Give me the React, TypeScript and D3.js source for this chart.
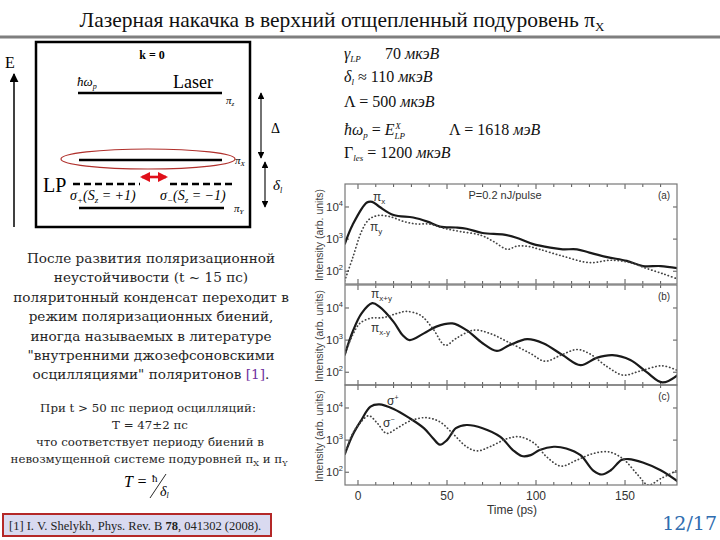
import React from 'react';
import * as d3 from 'd3';

// ---- chart data (intensity in arb. units) ----
const timeTicks = [0, 50, 100, 150];
const decadeTicks = [100, 1000, 10000];

const piXTime = [-7.5, -3, 5, 8, 12, 20, 31, 39, 46, 55, 61, 70, 82, 89, 98, 108, 115, 123, 130, 140, 151, 160, 170, 180];
const piXValue = [680, 2800, 13800, 14500, 10200, 5600, 4700, 3500, 2450, 2300, 2100, 1550, 1380, 1100, 710, 540, 480, 480, 380, 275, 210, 145, 145, 123];
const piYTime = [-7.5, -3, 2, 6, 11, 18, 26, 33, 40, 48, 57, 69, 76, 84, 89, 95, 102, 115, 130, 142, 153, 162, 172, 180];
const piYValue = [50, 260, 1740, 4000, 5400, 5000, 3500, 2950, 2950, 2200, 1740, 1320, 850, 480, 600, 600, 480, 295, 185, 220, 185, 123, 81, 56];

const piXpYTime = [-7.5, -3, 2, 8, 12, 20, 25, 29, 37, 44, 53, 61, 70, 78, 85, 95, 104, 115, 125, 134, 143, 153, 162, 171, 180];
const piXpYValue = [340, 1820, 6800, 14100, 11000, 3700, 1450, 1000, 1620, 2630, 3300, 2040, 800, 460, 690, 1070, 800, 340, 166, 280, 340, 240, 102, 48, 85];
const piXmYTime = [-7.5, -3, 1, 7, 14, 22, 27, 35, 42, 49, 55, 65, 74, 84, 97, 105, 114, 123, 130, 140, 149, 158, 171, 180];
const piXmYValue = [340, 1450, 3300, 4800, 5000, 6800, 7800, 6000, 2300, 690, 1120, 2040, 1620, 890, 380, 220, 340, 510, 380, 148, 81, 107, 158, 110];

const sigPlusTime = [-7.5, -3, 2, 7, 12, 20, 29, 37, 42, 46, 50, 55, 61, 70, 80, 87, 92, 97, 102, 110, 117, 125, 132, 137, 142, 148, 152, 160, 170, 180];
const sigPlusValue = [355, 1450, 4300, 11000, 12900, 9300, 4800, 2350, 1170, 720, 1000, 2350, 2950, 2350, 1260, 490, 320, 340, 490, 620, 550, 340, 115, 85, 115, 240, 257, 200, 115, 50];
const sigMinusTime = [-7.5, -3, 1, 6, 11, 16, 22, 29, 38, 46, 54, 61, 67, 74, 84, 91, 99, 106, 114, 123, 132, 141, 149, 157, 163, 170, 180];
const sigMinusValue = [355, 1620, 3300, 5750, 3300, 1620, 2350, 3900, 5000, 3700, 1450, 620, 460, 620, 1120, 1260, 800, 300, 155, 240, 380, 430, 257, 85, 40, 63, 120];

const panelLetters = ['(a)', '(b)', '(c)'];

// ---- slide text ----
const titleText = 'Лазерная накачка в верхний отщепленный подуровень π';
const paragraphLines = [
  'После развития поляризационной',
  'неустойчивости (t ~ 15 пс)',
  'поляритонный конденсат переходит в',
  'режим поляризационных биений,',
  'иногда называемых в литературе',
  '"внутренними джозефсоновскими',
];

const SANS = 'Liberation Sans, Arial, sans-serif';
const SERIF = 'DejaVu Serif, serif';
const TIMES = 'Liberation Serif, Times New Roman, serif';

const x0 = 345, x1 = 677;
const panelTops = [184, 285, 385];
const panelH = 100;

const xScale = d3.scaleLinear().domain([-7.3, 179.2]).range([x0, x1]);

type Series = { t: number[]; v: number[]; dotted: boolean };

const panelSeries: Series[][] = [
  [
    { t: piXTime, v: piXValue, dotted: false },
    { t: piYTime, v: piYValue, dotted: true },
  ],
  [
    { t: piXpYTime, v: piXpYValue, dotted: false },
    { t: piXmYTime, v: piXmYValue, dotted: true },
  ],
  [
    { t: sigPlusTime, v: sigPlusValue, dotted: false },
    { t: sigMinusTime, v: sigMinusValue, dotted: true },
  ],
];

const Panel: React.FC<{ index: number }> = ({ index }) => {
  const top = panelTops[index];
  const bottom = top + panelH;
  const yScale = d3.scaleLog().domain([40, 52000]).range([bottom, top]);
  const line = d3
    .line<[number, number]>()
    .x((d) => xScale(d[0]))
    .y((d) => yScale(d[1]))
    .curve(d3.curveCatmullRom.alpha(0.5));
  const minor = d3.range(0, 180, 10);
  const clipId = `clip-${index}`;
  return (
    <g>
      <defs>
        <clipPath id={clipId}>
          <rect x={x0} y={top} width={x1 - x0} height={panelH} />
        </clipPath>
      </defs>
      {/* ticks on the time axis, top and bottom, pointing inward */}
      {minor.map((t) => {
        const len = t % 50 === 0 ? 5 : 3;
        return (
          <g key={t} stroke="#555" strokeWidth={1}>
            <line x1={xScale(t)} x2={xScale(t)} y1={bottom} y2={bottom - len} />
            <line x1={xScale(t)} x2={xScale(t)} y1={top} y2={top + len} />
          </g>
        );
      })}
      {decadeTicks.map((d) => (
        <g key={d}>
          <line x1={x0} x2={x0 + 4} y1={yScale(d)} y2={yScale(d)} stroke="#555" />
          <line x1={x1} x2={x1 - 4} y1={yScale(d)} y2={yScale(d)} stroke="#555" />
          <text x={x0 - 2} y={yScale(d) + 4} textAnchor="end" fontFamily={SANS} fontSize={11.5} fill="#333">
            10<tspan fontSize={7.5} dy={-5}>{Math.round(Math.log10(d))}</tspan>
          </text>
        </g>
      ))}
      <g clipPath={`url(#${clipId})`}>
        {panelSeries[index].map((s, i) => (
          <path
            key={i}
            d={line(s.t.map((t, k) => [t, s.v[k]] as [number, number])) || ''}
            fill="none"
            stroke={s.dotted ? '#444' : '#1a1a1a'}
            strokeWidth={s.dotted ? 1.7 : 2.2}
            strokeDasharray={s.dotted ? '0.3 3.2' : undefined}
            strokeLinecap={s.dotted ? 'round' : 'butt'}
          />
        ))}
      </g>
      <rect x={x0} y={top} width={x1 - x0} height={panelH} fill="none" stroke="#777" strokeWidth={1.2} />
      <text x={664} y={top + 15} textAnchor="middle" fontFamily={SANS} fontSize={10} fill="#333">
        {panelLetters[index]}
      </text>
      <text
        transform={`translate(323,${top + panelH / 2 + 1}) rotate(-90)`}
        textAnchor="middle"
        fontFamily={SANS}
        fontSize={10.5}
        fill="#444"
      >
        Intensity (arb. units)
      </text>
    </g>
  );
};

const Arrowheads = () => (
  <defs>
    <marker id="ah" viewBox="0 0 10 10" refX="9" refY="5" markerWidth="6" markerHeight="6" orient="auto-start-reverse">
      <path d="M0,0 L10,5 L0,10 z" fill="#000" />
    </marker>
    <marker id="ahr" viewBox="0 0 10 10" refX="8" refY="5" markerWidth="4" markerHeight="4" orient="auto-start-reverse">
      <path d="M0,0 L10,5 L0,10 z" fill="#e0101a" />
    </marker>
  </defs>
);

const App: React.FC = () => {
  return (
    <svg width={720} height={540} style={{ position: 'absolute', left: 0, top: 0, background: '#fff' }}>
      <Arrowheads />
      {/* title */}
      <text x={342} y={27} textAnchor="middle" fontFamily={TIMES} fontSize={21.5} fill="#111">
        {titleText}<tspan fontSize={13} dy={4}>X</tspan>
      </text>
      <line x1={0} x2={720} y1={37} y2={37} stroke="#7f7f7f" strokeWidth={3} />

      {/* energy level diagram */}
      <line x1={14} x2={14} y1={227} y2={74} stroke="#000" strokeWidth={1.5} markerEnd="url(#ah)" />
      <text x={5} y={68} fontFamily={TIMES} fontSize={16}>E</text>
      <rect x={36} y={42} width={214} height={185} fill="none" stroke="#000" strokeWidth={2.5} />
      <text x={152} y={59} textAnchor="middle" fontFamily={TIMES} fontSize={12} fontWeight="bold">k = 0</text>
      <text x={77} y={86} fontFamily={TIMES} fontSize={13} fontStyle="italic">
        ħω<tspan fontSize={8} dy={3}>p</tspan>
      </text>
      <text x={173} y={88} fontFamily={TIMES} fontSize={18}>Laser</text>
      <line x1={78} x2={222} y1={93} y2={93} stroke="#000" strokeWidth={2.5} />
      <text x={226} y={104} fontFamily={TIMES} fontSize={11} fontStyle="italic">π<tspan fontSize={7} dy={2}>z</tspan></text>
      <ellipse cx={148} cy={159} rx={87} ry={10} fill="none" stroke="#b0302c" strokeWidth={1.2} />
      <line x1={79} x2={222} y1={160} y2={160} stroke="#000" strokeWidth={2.5} />
      <text x={235} y={164} fontFamily={TIMES} fontSize={11} fontStyle="italic">π<tspan fontSize={7} dy={2}>X</tspan></text>
      <line x1={142} x2={166} y1={177} y2={177} stroke="#e0101a" strokeWidth={2.6} markerStart="url(#ahr)" markerEnd="url(#ahr)" />
      <text x={43} y={192} fontFamily={TIMES} fontSize={20}>LP</text>
      <line x1={73} x2={140} y1={184} y2={184} stroke="#000" strokeWidth={2.5} strokeDasharray="7 4" />
      <line x1={170} x2={232} y1={184} y2={184} stroke="#000" strokeWidth={2.5} strokeDasharray="7 4" />
      <text x={70} y={200} fontFamily={TIMES} fontSize={14} fontStyle="italic">
        σ<tspan fontSize={9} dy={3}>+</tspan><tspan dy={-3}>(S</tspan><tspan fontSize={9} dy={3}>z</tspan><tspan dy={-3}> = +1)</tspan>
      </text>
      <text x={160} y={200} fontFamily={TIMES} fontSize={14} fontStyle="italic">
        σ<tspan fontSize={9} dy={3}>−</tspan><tspan dy={-3}>(S</tspan><tspan fontSize={9} dy={3}>z</tspan><tspan dy={-3}> = −1)</tspan>
      </text>
      <line x1={79} x2={224} y1={208} y2={208} stroke="#000" strokeWidth={2.5} />
      <text x={234} y={212} fontFamily={TIMES} fontSize={11} fontStyle="italic">π<tspan fontSize={7} dy={2}>Y</tspan></text>
      <line x1={261} x2={261} y1={93} y2={158} stroke="#000" strokeWidth={1.1} markerStart="url(#ah)" markerEnd="url(#ah)" />
      <text x={271} y={133} fontFamily={TIMES} fontSize={14}>Δ</text>
      <line x1={265} x2={265} y1={162} y2={207} stroke="#000" strokeWidth={1.1} markerStart="url(#ah)" markerEnd="url(#ah)" />
      <text x={273} y={190} fontFamily={TIMES} fontSize={15} fontStyle="italic">δ<tspan fontSize={8} dy={3}>l</tspan></text>

      {/* parameter formulas */}
      <g fontFamily={TIMES} fontSize={16} fill="#111">
        <text x={344} y={59}>
          <tspan fontStyle="italic">γ</tspan><tspan fontSize={9} dy={3} fontStyle="italic">LP</tspan>
          <tspan x={385} dy={-3}>70 </tspan><tspan fontStyle="italic">мкэВ</tspan>
        </text>
        <text x={344} y={82}>
          <tspan fontStyle="italic">δ</tspan><tspan fontSize={9} dy={3} fontStyle="italic">l</tspan>
          <tspan dy={-3}> ≈ 110 </tspan><tspan fontStyle="italic">мкэВ</tspan>
        </text>
        <text x={344} y={107}>
          Λ = 500 <tspan fontStyle="italic">мкэВ</tspan>
        </text>
        <text x={344} y={135}>
          <tspan fontStyle="italic">ħω</tspan><tspan fontSize={9} dy={3} fontStyle="italic">p</tspan>
          <tspan dy={-3}> = </tspan><tspan fontStyle="italic">E</tspan>
          <tspan fontSize={9} dy={4} fontStyle="italic">LP</tspan>
          <tspan fontSize={9} dx={-10} dy={-10} fontStyle="italic">X</tspan>
          <tspan x={449} dy={6}>Λ = 1618 </tspan><tspan fontStyle="italic">мэВ</tspan>
        </text>
        <text x={344} y={158}>
          Γ<tspan fontSize={9} dy={3} fontStyle="italic">les</tspan>
          <tspan dy={-3}> = 1200 </tspan><tspan fontStyle="italic">мкэВ</tspan>
        </text>
      </g>

      {/* explanatory paragraph */}
      <g fontFamily={SERIF} fontSize={13.6} fill="#262626" textAnchor="middle">
        {paragraphLines.map((l, i) => (
          <text key={i} x={151} y={263 + i * 19.4}>{l}</text>
        ))}
        <text x={151} y={263 + 6 * 19.4}>
          осцилляциями" поляритонов <tspan fill="#7030a0">[1]</tspan>.
        </text>
      </g>
      <g fontFamily={SERIF} fontSize={11.8} fill="#262626" textAnchor="middle">
        <text x={148} y={412}>При t &gt; 50 пс период осцилляций:</text>
        <text x={150} y={429}>T = 47±2 пс</text>
        <text x={150} y={446}>что соответствует периоду биений в</text>
        <text x={149} y={463}>
          невозмущенной системе подуровней π<tspan fontSize={8} dy={3}>X</tspan><tspan dy={-3}> и π</tspan>
          <tspan fontSize={8} dy={3}>Y</tspan>
        </text>
      </g>
      <text x={124} y={487} fontFamily={TIMES} fontSize={16} fontStyle="italic">T =</text>
      <text x={152} y={482} fontFamily={TIMES} fontSize={11}>ħ</text>
      <line x1={150} x2={166} y1={498} y2={474} stroke="#111" strokeWidth={0.9} />
      <text x={160} y={496} fontFamily={TIMES} fontSize={14} fontStyle="italic">δ<tspan fontSize={8} dy={2}>l</tspan></text>

      {/* reference box */}
      <rect x={3} y={514} width={268} height={22} fill="#d9daf0" stroke="#b42828" strokeWidth={2} />
      <text x={9} y={530} fontFamily={TIMES} fontSize={12.5} fill="#222">
        [1] I. V. Shelykh, Phys. Rev. B <tspan fontWeight="bold">78</tspan>, 041302 (2008).
      </text>

      {/* time-resolved intensity panels */}
      {[0, 1, 2].map((i) => (
        <Panel key={i} index={i} />
      ))}
      <text x={505} y={199} textAnchor="middle" fontFamily={SANS} fontSize={11} fill="#333">P=0.2 nJ/pulse</text>
      <g fontFamily={SANS} fill="#333">
        <text x={373} y={201} fontSize={12}>π<tspan fontSize={8} dy={3}>x</tspan></text>
        <text x={370} y={231} fontSize={12}>π<tspan fontSize={8} dy={3}>y</tspan></text>
        <text x={371} y={298} fontSize={12}>π<tspan fontSize={8} dy={3}>x+y</tspan></text>
        <text x={371} y={332} fontSize={12}>π<tspan fontSize={8} dy={3}>x-y</tspan></text>
        <text x={387} y={405} fontSize={12}>σ<tspan fontSize={7} dy={-5}>+</tspan></text>
        <text x={383} y={427} fontSize={12}>σ<tspan fontSize={7} dy={-5}>−</tspan></text>
      </g>
      {timeTicks.map((t) => (
        <text key={t} x={xScale(t)} y={500} textAnchor="middle" fontFamily={SANS} fontSize={12} fill="#333">
          {t}
        </text>
      ))}
      <text x={512} y={514} textAnchor="middle" fontFamily={SANS} fontSize={12} fill="#333">Time (ps)</text>

      {/* slide number */}
      <text x={717} y={530} textAnchor="end" fontFamily={SERIF} fontSize={19} fill="#2f6db0">12/17</text>
    </svg>
  );
};

export default App;
